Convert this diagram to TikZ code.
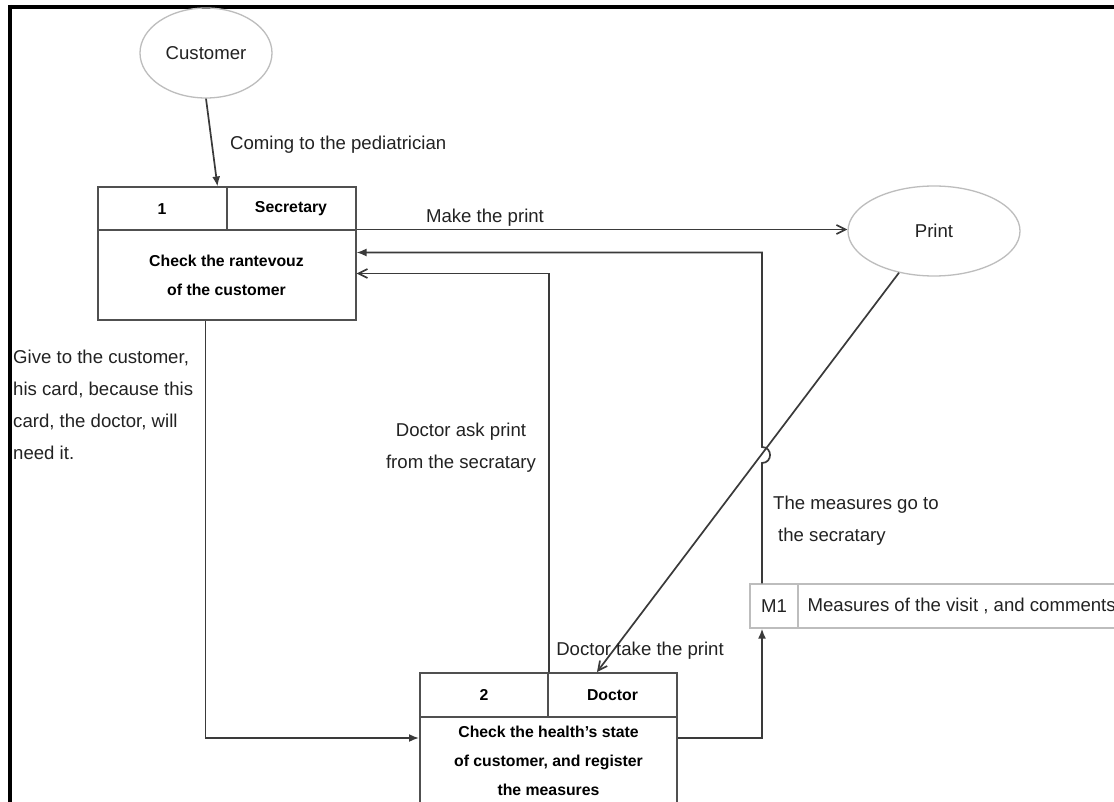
\documentclass[tikz,border=0pt]{standalone}
\usepackage{fontspec}
\setmainfont{Liberation Sans}
\usetikzlibrary{arrows.meta,shapes.geometric}
\definecolor{boxc}{HTML}{505050}
\definecolor{linec}{HTML}{3A3A3A}
\definecolor{ellc}{HTML}{BDBDBD}
\definecolor{txtc}{HTML}{222222}
\tikzset{
 lbl/.style={inner sep=0pt, text=txtc, font=\fontsize{18.6pt}{32pt}\selectfont},
 ent/.style={ellipse, draw=ellc, line width=1.3pt, text=txtc, font=\fontsize{18.6pt}{22pt}\selectfont},
 cell/.style={rectangle, draw=boxc, line width=2pt, inner sep=0pt, font=\bfseries\fontsize{15.8pt}{29pt}\selectfont, text=black, align=center},
 store/.style={rectangle, draw=ellc, line width=1.3pt, minimum height=44pt, inner sep=0pt, text=txtc, font=\fontsize{18.6pt}{22pt}\selectfont},
 flow/.style={draw=linec, line width=1.7pt},
 fa/.style={flow, -{Latex[length=10pt,width=8pt]}},
 oa/.style={flow, -{Straight Barb[length=9pt,width=9pt]}},
 frame/.style={line width=4pt, draw=black},
}
\begin{document}
\begin{tikzpicture}[x=1pt,y=-1pt]
\useasboundingbox (0,0) rectangle (1114,802);
\clip (0,0) rectangle (1114,802);
\fill[white] (0,0) rectangle (1114,802);
\draw[frame] (8,7) -- (1120,7);
\draw[frame] (10,5) -- (10,810);

% external entities
\node[ent, minimum width=132pt, minimum height=90pt] (cust) at (206,53) {Customer};
\node[ent, minimum width=172pt, minimum height=90pt] (print) at (934,231) {Print};

% process 1
\node[cell, minimum width=129pt, minimum height=43pt] (b1num) at (162,209) {1};
\node[cell, minimum width=129pt, minimum height=43pt] (b1role) at (291,209) {Secretary};
\node[cell, minimum width=258pt, minimum height=90pt] (b1body) at (226.5,275.5) {Check the rantevouz\\of the customer};

% process 2
\node[cell, minimum width=128pt, minimum height=44pt] (b2num) at (484,695) {2};
\node[cell, minimum width=129pt, minimum height=44pt] (b2role) at (612.5,695) {Doctor};
\node[cell, minimum width=257pt, minimum height=88pt] (b2body) at (548.5,761) {Check the health's state\\of customer, and register\\the measures};

% data store
\node[store, minimum width=48pt] (m1id) at (774,606) {M1};
\node[store, anchor=west, inner xsep=9pt] (m1txt) at (798,606) {Measures of the visit , and comments};

% flows
\draw[fa] (cust.south) -- ([xshift=-10pt]b1num.north east);
\node[lbl, anchor=west] (lcome) at (230,145) {Coming to the pediatrician};

\draw[oa] (b1body.north east) -- (b1body.north east -| print.west);
\node[lbl] (lmake) at (485,218) {Make the print};

\draw[fa] ([xshift=-12pt]m1id.north) -- (762,463) .. controls (772.7,463) and (772.7,447) .. (762,447) |- ([yshift=23pt]b1body.east);
\node[lbl, align=left, anchor=west] (lmeas) at (773,521) {The measures go to\\\hspace{5pt}the secratary};

\draw[oa] (b2num.north east) |- ([yshift=2pt]b1body.east);
\node[lbl, align=center] (lask) at (461,447.5) {Doctor ask print\\from the secratary};

\draw[oa] (print.230) -- ([xshift=50pt]b2role.north west);
\node[lbl] (ltake) at (640,651) {Doctor take the print};

\draw[fa] ([xshift=-21pt]b1body.south) |- ([yshift=23pt]b2body.west);
\node[lbl, align=left, anchor=west] (lgive) at (13,405) {Give to the customer,\\his card, because this\\card, the doctor, will\\need it.};

\draw[fa] ([yshift=23pt]b2body.east) -| ([xshift=-12pt]m1id.south);
\end{tikzpicture}
\end{document}
